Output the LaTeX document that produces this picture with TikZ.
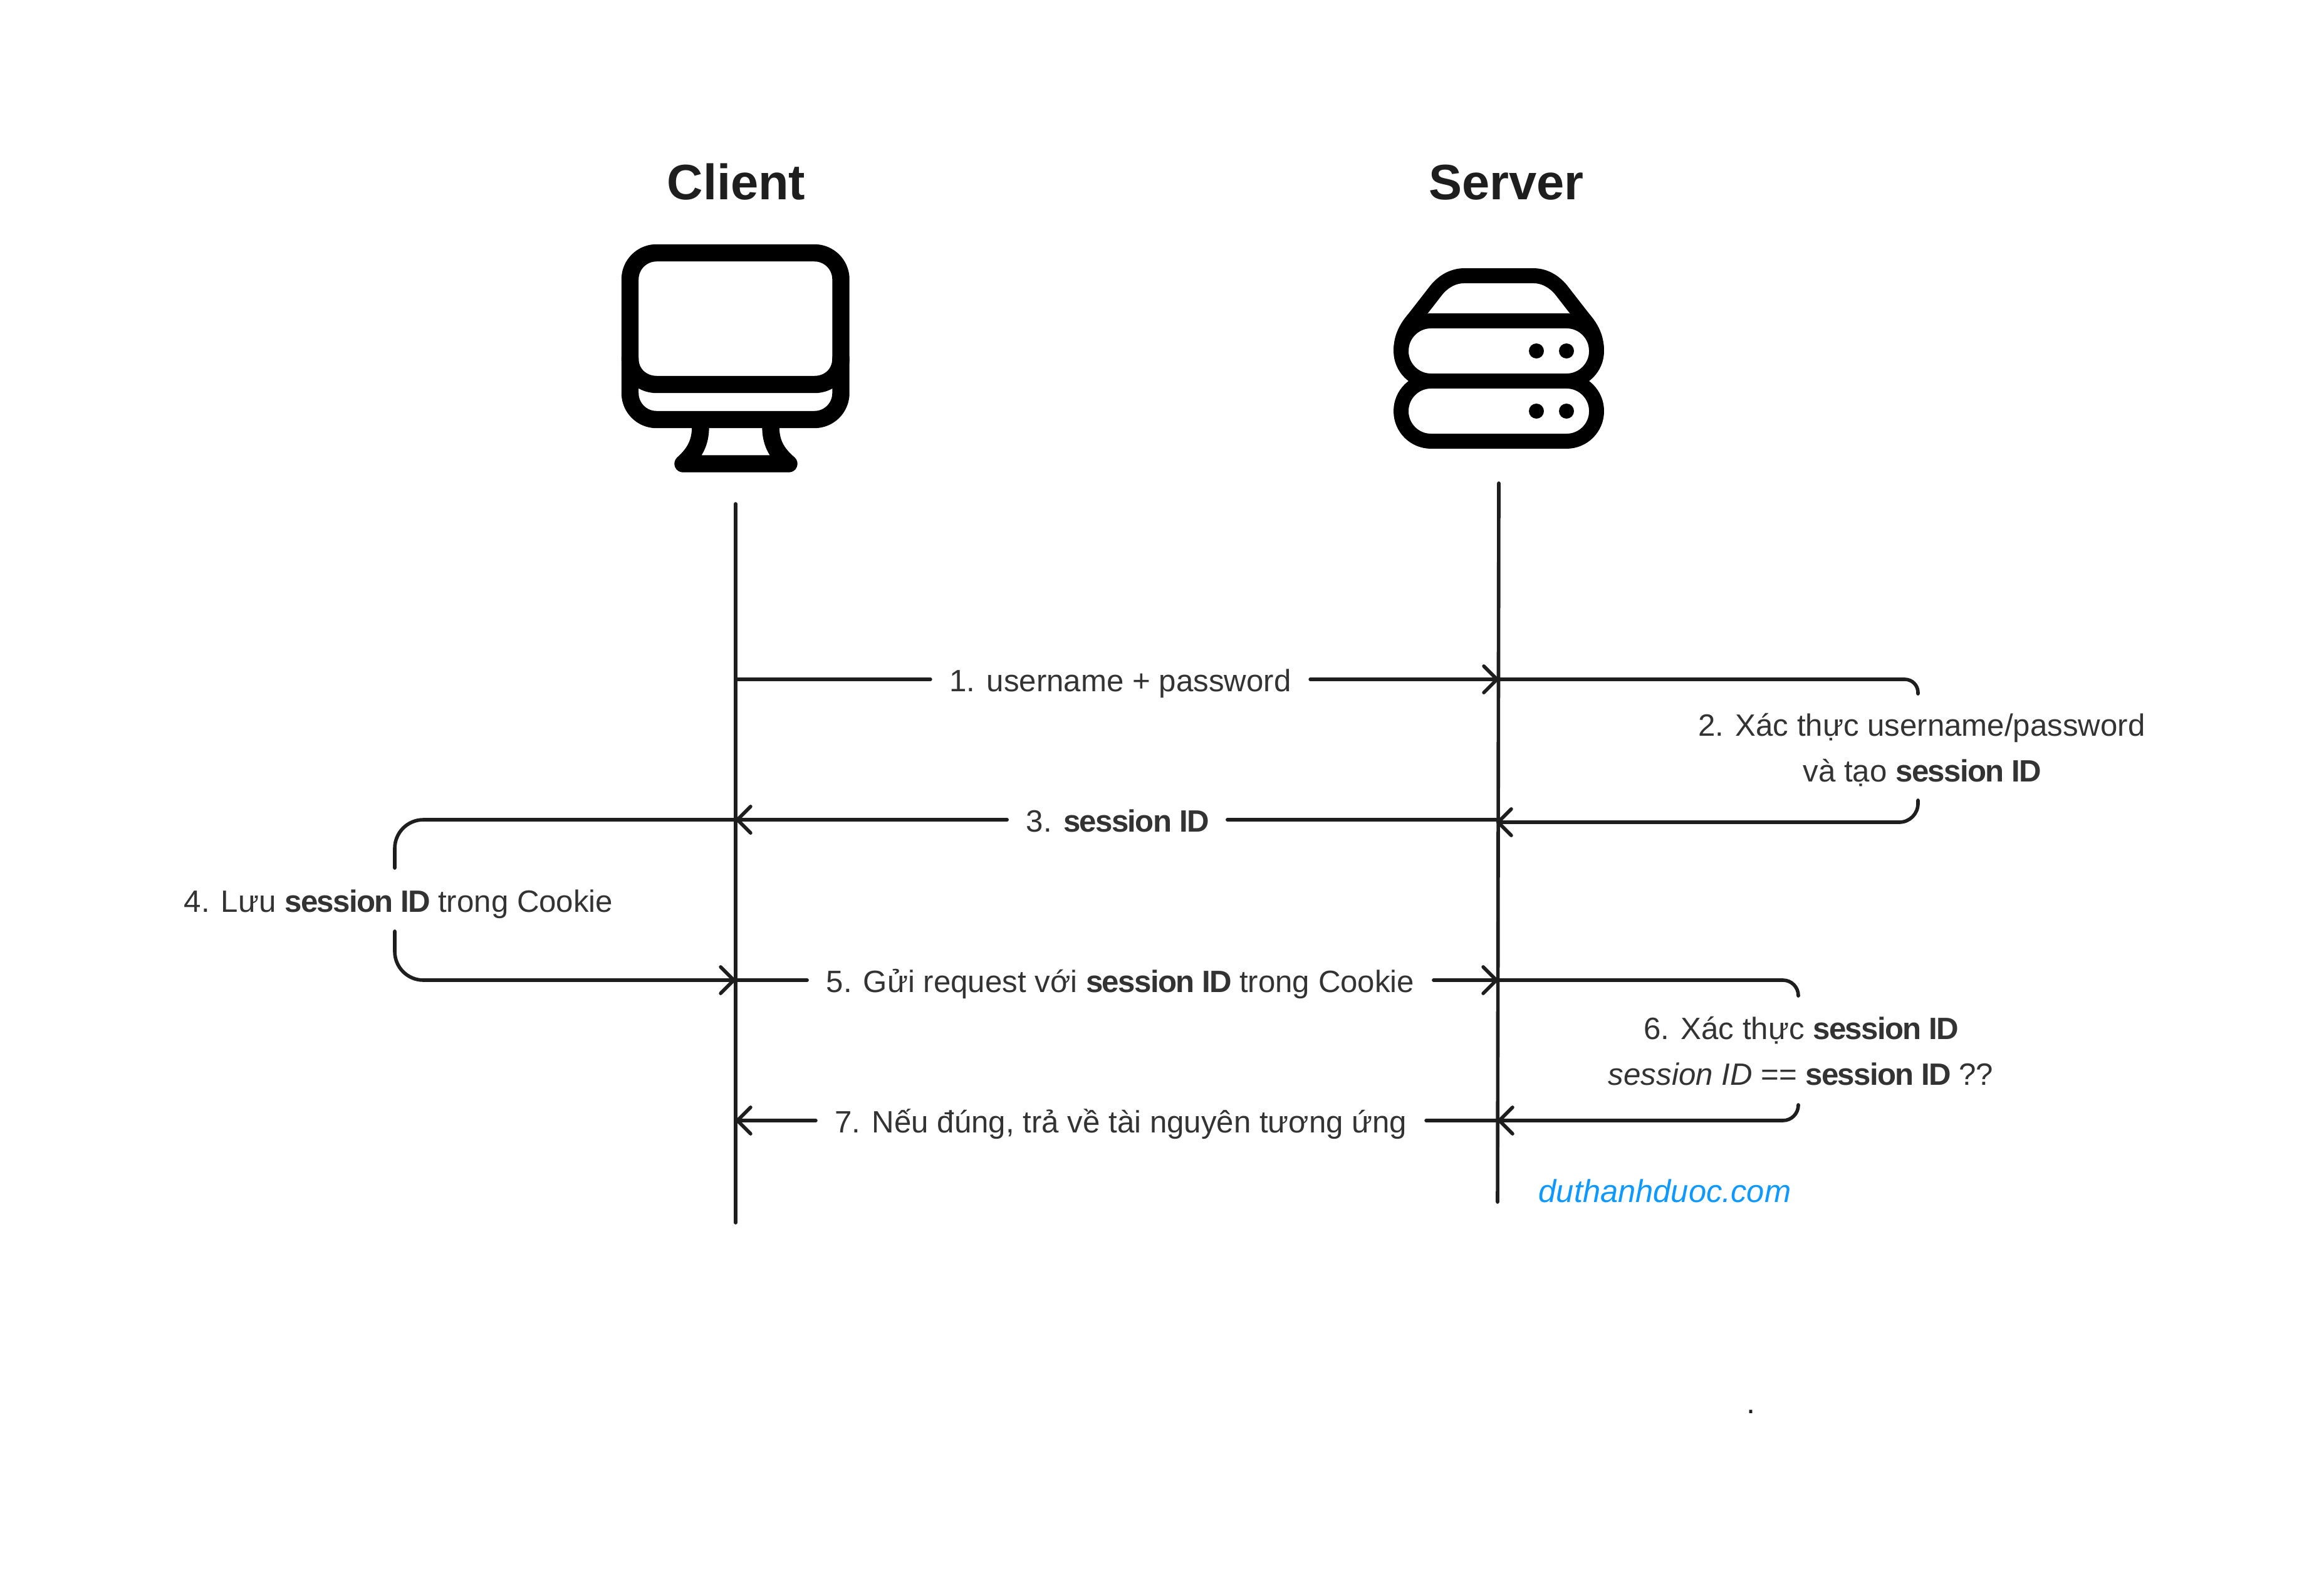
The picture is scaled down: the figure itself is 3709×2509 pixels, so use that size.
\documentclass[tikz,border=0pt]{standalone}
\usepackage{fontspec}
\setmainfont{Liberation Sans}[BoldFeatures={LetterSpace=-3.4}]
\newfontfamily\titlefont{Liberation Sans}
\usetikzlibrary{arrows.meta}

\definecolor{inkdark}{HTML}{1E1E1E}
\definecolor{inktext}{HTML}{333333}
\definecolor{linkblue}{HTML}{0D99FF}

\tikzset{
  Msg Tip/.tip={Straight Barb[length=6pt, width=12pt, round]},
  lifeline/.style={color=inkdark, line width=1.6pt, line cap=round},
  msgline/.style={lifeline, rounded corners=#1},
  msgline/.default=0pt,
  icon/.style={color=black, line width=#1, line join=round, line cap=round},
  icon/.default=7.8pt,
  title/.style={anchor=base, inner sep=0pt, text=inkdark, font=\titlefont\fontsize{22.6}{27}\selectfont\bfseries},
  msg/.style={inner ysep=0pt, inner xsep=8.5pt, text=inktext, text height=10.8pt, text depth=0pt,
    font=\fontsize{14}{20.5}\selectfont},
  note/.style={anchor=base, inner sep=0pt, align=center, text=inktext,
    font=\fontsize{14}{20.5}\selectfont}
}

\begin{document}
\begin{tikzpicture}[x=0.01cm, y=-0.01cm]
\useasboundingbox (0,0) rectangle (3709,2509);

% titles
\node[title] (client) at (1175,318.6) {Client};
\node[title] (server) at (2404,318.6) {Server};

% monitor
\draw[icon, rounded corners=12pt] (1005.5,403.5) rectangle (1342,669.5);
\draw[icon] (1005.5,572) .. controls (1005.5,597) and (1025,613.5) .. (1048,613.5) -- (1300,613.5)
  .. controls (1323,613.5) and (1342,597) .. (1342,572);
\draw[icon] (1118,680) .. controls (1118,705) and (1110,722) .. (1090,740) -- (1259,740)
  .. controls (1238,722) and (1230,705) .. (1230,680);

% server stack
\draw[icon=6.8pt, rounded corners=13.6pt] (2236,512) rectangle (2548,608);
\draw[icon=6.8pt, rounded corners=13.6pt] (2236,608) rectangle (2548,704);
\draw[icon=6.8pt] (2236,560) .. controls (2236,535) and (2247,520) .. (2258,507) -- (2293,462)
  .. controls (2305,448) and (2320,440) .. (2337,440) -- (2447,440)
  .. controls (2464,440) and (2479,448) .. (2491,462) -- (2526,507)
  .. controls (2537,520) and (2548,535) .. (2548,560);
\foreach \ledx in {2452,2500} {
  \foreach \ledy in {560,656} {
    \fill[black] (\ledx,\ledy) circle[radius=12];
  }
}

% lifelines
\coordinate (client top) at (1174,804);
\coordinate (client end) at (1174,1951);
\coordinate (server top) at (2392,771);
\coordinate (server end) at (2390,1918);
\draw[lifeline] (client top) -- (client end);
\draw[lifeline] (server top) -- (server end);

% anchor points on the lifelines
\coordinate (c1) at (1174,1084);
\coordinate (s1) at (2392,1084);
\coordinate (s3) at (2390,1308);
\coordinate (c3) at (1174,1308);
\coordinate (c5) at (1174,1564);
\coordinate (s5) at (2391,1564);
\coordinate (s7) at (2390,1788);
\coordinate (c7) at (1174,1788);

% messages
\node[msg] (msg1) at (1788,1084) {1. username + password};
\node[msg] (msg3) at (1783,1308) {3. \textbf{session ID}};
\node[msg] (msg5) at (1788,1564) {5. Gửi request với \textbf{session ID} trong Cookie};
\node[msg] (msg7) at (1789,1788) {7. Nếu đúng, trả về tài nguyên tương ứng};

\draw[lifeline] (c1) -- (msg1.west);
\draw[lifeline, -Msg Tip] (msg1.east) -- (s1);
\draw[lifeline] (s3) -- (msg3.east);
\draw[lifeline, -Msg Tip] (msg3.west) -- (c3);
\draw[lifeline] (c5) -- (msg5.west);
\draw[lifeline, -Msg Tip] (msg5.east) -- (s5);
\draw[lifeline] (s7) -- (msg7.east);
\draw[lifeline, -Msg Tip] (msg7.west) -- (c7);

% notes beside the lifelines
\node[note] (auth) at (3067,1247) {2. Xác thực username/password\\và tạo \textbf{session ID}};
\node[note] (store) at (636,1455) {4. Lưu \textbf{session ID} trong Cookie};
\node[note] (check) at (2874,1731) {6. Xác thực \textbf{session ID}\\\textit{session ID} == \textbf{session ID} ??};

\coordinate (auth in) at (3061,1107);
\coordinate (auth out) at (3061,1277);
\coordinate (store in) at (630,1385);
\coordinate (store out) at (630,1486);
\coordinate (check in) at (2870,1589);
\coordinate (check out) at (2870,1763);
\coordinate (s3b) at (2388,1312);

\draw[msgline=6pt] (s1) -| (auth in);
\draw[msgline=8.5pt, -Msg Tip] (auth out) |- (s3b);
\draw[msgline=13pt] (c3) -| (store in);
\draw[msgline=13pt, -Msg Tip] (store out) |- (c5);
\draw[msgline=7pt] (s5) -| (check in);
\draw[msgline=7pt, -Msg Tip] (check out) |- (s7);

% footer text
\node[anchor=base west, inner sep=0pt, text=linkblue, font=\fontsize{14.4}{16}\selectfont\itshape] (site) at (2455,1918) {duthanhduoc.com};
\node[anchor=base, inner sep=0pt, text=inkdark, font=\fontsize{14.4}{16}\selectfont] (dot) at (2794,2255) {.};
\end{tikzpicture}
\end{document}
